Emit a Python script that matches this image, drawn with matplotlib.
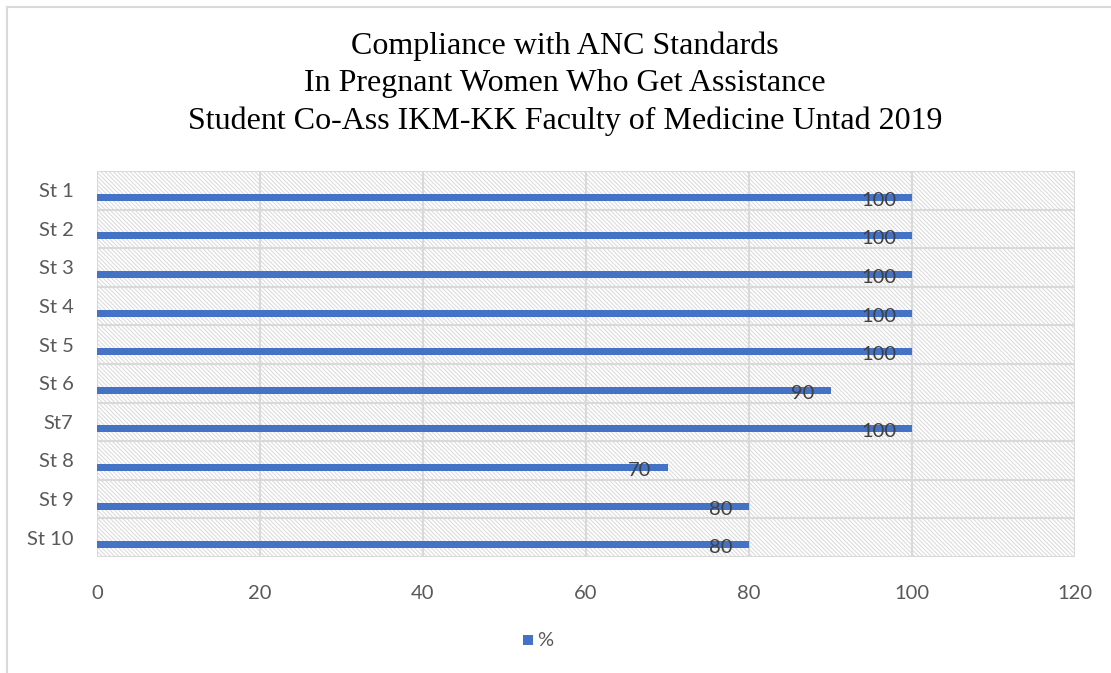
import matplotlib
matplotlib.use("Agg")
import matplotlib.pyplot as plt
from matplotlib.patches import Rectangle
from matplotlib.lines import Line2D
import numpy as np

categories = ["St 1", "St 2", "St 3", "St 4", "St 5", "St 6", "St7", "St 8", "St 9", "St 10"]
values = [100, 100, 100, 100, 100, 90, 100, 70, 80, 80]
xticks = [0, 20, 40, 60, 80, 100, 120]
title_lines = ["Compliance with ANC Standards",
               "In Pregnant Women Who Get Assistance",
               "Student Co-Ass IKM-KK Faculty of Medicine Untad 2019"]
series_name = "%"

plt.rcParams['hatch.linewidth'] = 0.8
plt.rcParams['hatch.color'] = '#dcdcdc'

fig = plt.figure(figsize=(11.11, 6.73), dpi=100)
fig.patch.set_facecolor('white')
ax = fig.add_axes([97/1111, 1-557/673, (1075-97)/1111, (557-171)/673])

bg = Rectangle((0, 0), 1, 1, transform=ax.transAxes, facecolor='white',
               edgecolor='#dcdcdc', hatch='\\' * 8, lw=0, zorder=0)
ax.add_patch(bg)
ax.set_facecolor('white')

y = np.arange(len(categories))
bars = ax.barh(y + 0.18, values, height=0.18, color='#4472C4', zorder=3)

for yi, v in zip(y, values):
    ax.annotate(str(v), xy=(v, yi + 0.18), xytext=(-16, -3), textcoords='offset pixels',
                ha='right', va='center', fontsize=14.5, color='#404040',
                family='Lato', zorder=4)

ax.set_xlim(0, 120)
ax.set_ylim(len(categories) - 0.5, -0.5)
ax.set_xticks(xticks)
ax.set_xticklabels([str(t) for t in xticks], fontsize=14.5, color='#595959', family='Lato')
ax.set_yticks(y)
ax.set_yticklabels(categories, fontsize=14.5, color='#595959', family='Lato')
ax.set_yticks(np.arange(len(categories) + 1) - 0.5, minor=True)
ax.tick_params(axis='both', which='both', length=0)
ax.tick_params(axis='x', pad=20)
ax.tick_params(axis='y', pad=17)
ax.grid(axis='x', which='major', color='#d9d9d9', lw=1.5, zorder=1)
ax.grid(axis='y', which='minor', color='#d9d9d9', lw=1.5, zorder=1)
ax.grid(axis='y', which='major', visible=False)
for s in ax.spines.values():
    s.set_visible(False)

for i, line in enumerate(title_lines):
    fig.text(565/1111, 1 - (54 + i*37.5)/673, line, ha='center', va='baseline',
             fontsize=23, family='Liberation Serif', color='black')

# legend
fig.patches.append(Rectangle((523/1111, 1-645/673), 10/1111, 10/673, transform=fig.transFigure,
                             facecolor='#4472C4', edgecolor='none', figure=fig))
fig.text(537/1111, 1-640/673, series_name, ha='left', va='center', fontsize=14.5,
         color='#595959', family='Lato')

# frame
fig.add_artist(Line2D([7/1111, 7/1111], [0, 1-7/673], transform=fig.transFigure, color='#d9d9d9', lw=1.5))
fig.add_artist(Line2D([7/1111, 1], [1-7/673, 1-7/673], transform=fig.transFigure, color='#d9d9d9', lw=1.5))

fig.savefig('out.png', dpi=100)
